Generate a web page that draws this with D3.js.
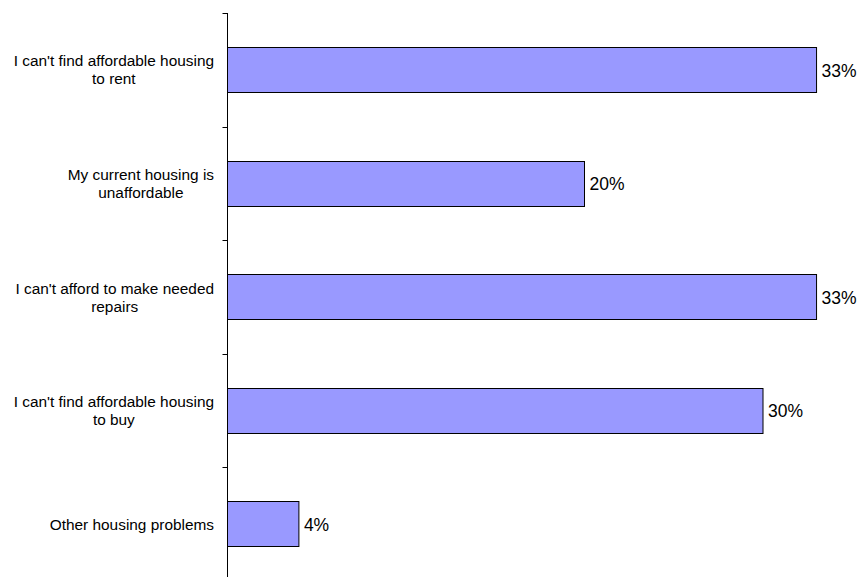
<!DOCTYPE html>
<html>
<head>
<meta charset="utf-8">
<script src="https://cdn.jsdelivr.net/npm/d3@7"></script>
<style>
  html, body { margin: 0; padding: 0; background: #fff; }
  svg text { font-family: "Liberation Sans", Arial, sans-serif; fill: #000; }
</style>
</head>
<body>
<svg id="chart" width="860" height="577"></svg>
<script>
// Housing problems reported, share of respondents (%)
const categories = [
  ["I can't find affordable housing", "to rent"],
  ["My current housing is", "unaffordable"],
  ["I can't afford to make needed", "repairs"],
  ["I can't find affordable housing", "to buy"],
  ["Other housing problems"]
];
const values = [33, 20, 33, 30, 4];
const valueLabels = ["33%", "20%", "33%", "30%", "4%"];

const svg = d3.select("#chart");
const axisX = 227.5;
const pxPerPct = 17.85;

const y = d3.scaleBand()
  .domain(d3.range(categories.length))
  .range([13, 581])
  .paddingInner(0.6)
  .paddingOuter(0.3);

const x = d3.scaleLinear()
  .domain([0, 1])
  .range([axisX, axisX + pxPerPct]);

// bars
svg.append("g").selectAll("rect")
  .data(values)
  .join("rect")
  .attr("x", x(0))
  .attr("y", (d, i) => Math.round(y(i)) + 0.5)
  .attr("width", d => x(d) - x(0))
  .attr("height", Math.round(y.bandwidth()))
  .attr("fill", "#9999ff")
  .attr("stroke", "#000")
  .attr("stroke-width", 1);

// value labels
svg.append("g").selectAll("text")
  .data(values)
  .join("text")
  .attr("x", d => x(d) + 5)
  .attr("y", (d, i) => y(i) + y.bandwidth() / 2 + 6.8)
  .attr("font-size", 17.5)
  .text((d, i) => valueLabels[i]);

// vertical axis with ticks between categories
const tickYs = d3.range(categories.length + 1).map(i => 13 + i * (568 / categories.length));
const axisG = svg.append("g");
axisG.append("line")
  .attr("x1", axisX).attr("x2", axisX)
  .attr("y1", 13).attr("y2", 577)
  .attr("stroke", "#000").attr("stroke-width", 1);
axisG.selectAll("line.tick")
  .data(tickYs)
  .join("line")
  .attr("class", "tick")
  .attr("x1", axisX - 5).attr("x2", axisX)
  .attr("y1", d => Math.round(d) + 0.5).attr("y2", d => Math.round(d) + 0.5)
  .attr("stroke", "#000").attr("stroke-width", 1);

// category labels: block right-aligned to the axis, lines centred within the block
const labelRight = 214;
const lineH = 18;
categories.forEach((lines, i) => {
  const cy = y(i) + y.bandwidth() / 2;
  const g = svg.append("g");
  const texts = lines.map((ln, j) => g.append("text")
    .attr("font-size", 15.4)
    .attr("text-anchor", "middle")
    .attr("y", cy + 5.5 + (j - (lines.length - 1) / 2) * lineH)
    .text(ln));
  const w = d3.max(texts, t => t.node().getComputedTextLength());
  texts.forEach(t => t.attr("x", labelRight - w / 2));
});
</script>
</body>
</html>
